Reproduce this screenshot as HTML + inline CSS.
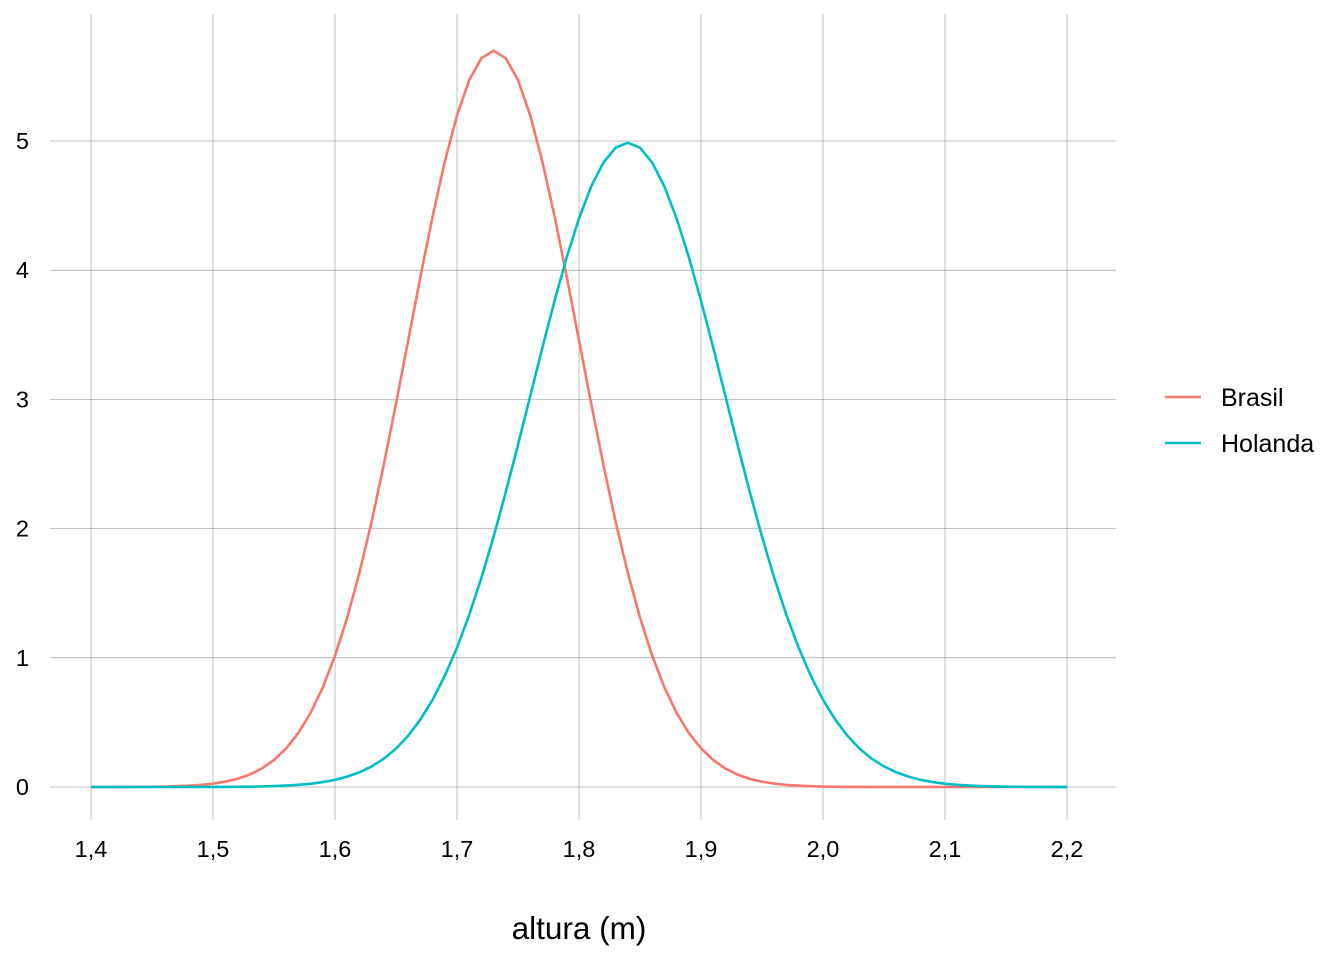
<!DOCTYPE html>
<html><head><meta charset="utf-8"><style>
body{margin:0;background:#fff;}
svg{display:block;font-family:"Liberation Sans",Arial,sans-serif;}
</style></head><body>
<svg id="chart" width="1344" height="960"></svg>
<script>
const xTicks=[1.4,1.5,1.6,1.7,1.8,1.9,2.0,2.1,2.2];
const xTickLabels=["1,4","1,5","1,6","1,7","1,8","1,9","2,0","2,1","2,2"];
const yTicks=[0,1,2,3,4,5];
const yTickLabels=["0","1","2","3","4","5"];
const xStart=1.40, xStep=0.01;
const brasil=[0,0.0001,0.0003,0.0006,0.001,0.002,0.003,0.006,0.010,0.016,0.026,0.041,0.063,0.096,0.143,0.209,0.299,0.418,0.574,0.771,1.016,1.311,1.658,2.054,2.494,2.966,3.457,3.947,4.416,4.840,5.199,5.471,5.641,5.699,5.641,5.471,5.199,4.840,4.416,3.947,3.457,2.966,2.494,2.054,1.658,1.311,1.016,0.771,0.574,0.418,0.299,0.209,0.143,0.096,0.063,0.041,0.026,0.016,0.010,0.006,0.003,0.002,0.001,0.0006,0,0,0,0,0,0,0,0,0,0,0,0,0,0,0,0,0];
const holanda=[0,0,0,0,0,0,0,0.0001,0.0002,0.0003,0.0006,0.001,0.0017,0.0027,0.0044,0.007,0.011,0.017,0.025,0.038,0.055,0.080,0.114,0.159,0.219,0.297,0.397,0.522,0.675,0.860,1.079,1.332,1.619,1.938,2.283,2.649,3.025,3.401,3.764,4.102,4.401,4.648,4.833,4.948,4.987,4.948,4.833,4.648,4.401,4.102,3.764,3.401,3.025,2.649,2.283,1.938,1.619,1.332,1.079,0.860,0.675,0.522,0.397,0.297,0.219,0.159,0.114,0.080,0.055,0.038,0.025,0.017,0.011,0.007,0.0044,0.0027,0.0017,0.001,0.0006,0.0003,0.0002];
const seriesNames=["Brasil","Holanda"];
const colors=["#F8766D","#00BFC4"];

const svg=document.getElementById('chart');
const NS='http://www.w3.org/2000/svg';
const L=50,R=1116,T=14,B=820;
const xs=v=>91+(v-1.4)*1220;
const ys=v=>787-v*129.2;
function mk(tag,attrs,parent){const e=document.createElementNS(NS,tag);for(const k in attrs)e.setAttribute(k,attrs[k]);(parent||svg).appendChild(e);return e;}

const grid=mk('g',{});


yTicks.forEach((t,i)=>{
  const l=mk('line',{x1:L,x2:R,y1:ys(t),y2:ys(t),stroke:'#000','stroke-opacity':0.45,'stroke-width':0.55},grid);
  
  
  const tx=mk('text',{x:29,y:ys(t)+8,'text-anchor':'end','font-size':23.5,fill:'#000'});
  tx.textContent=yTickLabels[i];
  
  
});
xTicks.forEach((t,i)=>{
  const l=mk('line',{x1:xs(t),x2:xs(t),y1:T,y2:B,stroke:'#000','stroke-opacity':0.45,'stroke-width':0.55},grid);
  
  
  const tx=mk('text',{x:xs(t),y:857,'text-anchor':'middle','font-size':23.5,fill:'#000'});
  tx.textContent=xTickLabels[i];
  
  
});
[brasil,holanda].forEach((arr,s)=>{
  const d=arr.map((v,i)=>(i?'L':'M')+xs(xStart+i*xStep).toFixed(2)+','+ys(v).toFixed(2)).join('');
  const p=mk('path',{d:d,fill:'none',stroke:colors[s],'stroke-width':2.6,'stroke-linejoin':'round'});
  
  
});
const title=mk('text',{x:579,y:939,'text-anchor':'middle','font-size':31.5,fill:'#000'});
title.textContent='altura (m)';


seriesNames.forEach((n,i)=>{
  const g=mk('g',{});
  
  
  const y=397+i*46;
  mk('line',{x1:1165,x2:1201,y1:y,y2:y,stroke:colors[i],'stroke-width':2.6},g);
  const t=mk('text',{x:1221,y:y+9,'font-size':25,fill:'#000'},g);
  t.textContent=n;
});
</script>
</body></html>
